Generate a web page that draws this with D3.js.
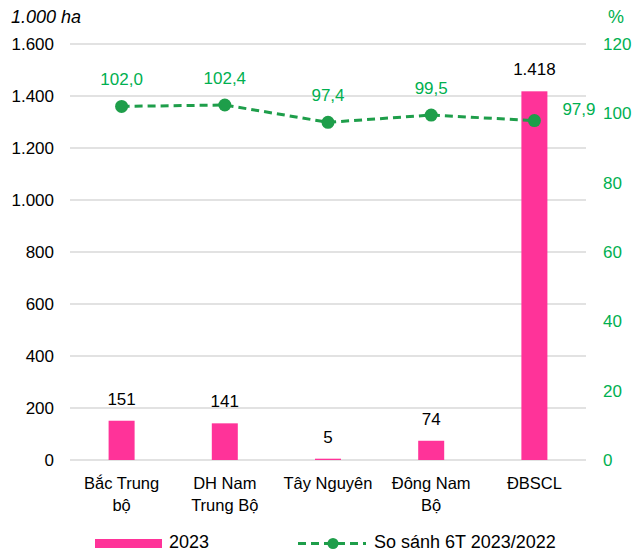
<!DOCTYPE html>
<html><head><meta charset="utf-8">
<script src="https://cdn.jsdelivr.net/npm/d3@7"></script>
<style>body{margin:0;background:#fff}svg{display:block}text{font-family:"Liberation Sans",Arial,sans-serif}</style>
</head><body><svg id="c" width="633" height="552"></svg>
<script>
const categories = [["Bắc Trung","bộ"],["DH Nam","Trung Bộ"],["Tây Nguyên"],["Đông Nam","Bộ"],["ĐBSCL"]];
const area2023 = [151,141,5,74,1418];
const areaLabels = ["151","141","5","74","1.418"];
const ratio = [102.0,102.4,97.4,99.5,97.9];
const ratioLabels = ["102,0","102,4","97,4","99,5","97,9"];
const leftTicks = [0,200,400,600,800,1000,1200,1400,1600];
const leftTickLabels = ["0","200","400","600","800","1.000","1.200","1.400","1.600"];
const rightTicks = [0,20,40,60,80,100,120];

const svg = d3.select("#c");
const L=70,R=586,T=44,B=460;
const pink="#FF3399", green="#00B050", lineGreen="#1E9E4A";
const x = d3.scaleBand().domain(d3.range(categories.length)).range([L,R]).paddingInner(0).paddingOuter(0);
const y = d3.scaleLinear().domain([0,1600]).range([B,T]);
const y2 = d3.scaleLinear().domain([0,120]).range([B,T]);
const cx = i => x(i)+x.bandwidth()/2;

// gridlines
svg.append("g").selectAll("line").data(leftTicks).join("line")
  .attr("x1",L).attr("x2",R).attr("y1",d=>y(d)).attr("y2",d=>y(d))
  .attr("stroke","#d9d9d9").attr("stroke-width",1.5);

// left axis
const la = svg.append("g").attr("transform",`translate(${L},0)`)
  .call(d3.axisLeft(y).tickValues(leftTicks).tickFormat((d,i)=>leftTickLabels[i]).tickSize(0).tickPadding(16));
la.select(".domain").remove();
la.selectAll("text").attr("font-size",17).attr("fill","#000").style("font-family","Liberation Sans, Arial, sans-serif");

// right axis
const ra = svg.append("g").attr("transform",`translate(${R},0)`)
  .call(d3.axisRight(y2).tickValues(rightTicks).tickSize(0).tickPadding(17));
ra.select(".domain").remove();
ra.selectAll("text").attr("font-size",17).attr("fill",green).style("font-family","Liberation Sans, Arial, sans-serif");

svg.append("text").attr("x",11).attr("y",23).attr("font-size",18).attr("font-style","italic").text("1.000 ha");
svg.append("text").attr("x",616).attr("y",23).attr("font-size",18).attr("fill",green).attr("text-anchor","middle").text("%");

// bars
const bw = 26;
svg.append("g").selectAll("rect").data(area2023).join("rect")
  .attr("x",(d,i)=>cx(i)-bw/2).attr("width",bw)
  .attr("y",d=>y(d)).attr("height",d=>B-y(d)).attr("fill",pink);
svg.append("g").selectAll("text").data(area2023).join("text")
  .attr("x",(d,i)=>cx(i)).attr("y",d=>y(d)-16)
  .attr("text-anchor","middle").attr("font-size",17).attr("fill","#000")
  .text((d,i)=>areaLabels[i]);

// category labels
const cl = svg.append("g").selectAll("text").data(categories).join("text")
  .attr("x",(d,i)=>cx(i)).attr("y",489).attr("text-anchor","middle").attr("font-size",16.5);
cl.each(function(d,i){
  const t=d3.select(this);
  d.forEach((s,j)=>t.append("tspan").attr("x",cx(i)).attr("dy",j?22:0).text(s));
});

// line
const line = d3.line().x((d,i)=>cx(i)).y(d=>y2(d));
svg.append("path").datum(ratio).attr("d",line).attr("fill","none")
  .attr("stroke",lineGreen).attr("stroke-width",3).attr("stroke-dasharray","8,5");
svg.append("g").selectAll("circle").data(ratio).join("circle")
  .attr("cx",(d,i)=>cx(i)).attr("cy",d=>y2(d)).attr("r",6.5).attr("fill",lineGreen);
svg.append("g").selectAll("text").data(ratio).join("text")
  .attr("x",(d,i)=>i===4? cx(i)+28 : cx(i))
  .attr("y",(d,i)=>i===4? y2(d)-6 : y2(d)-21)
  .attr("text-anchor",(d,i)=>i===4?"start":"middle")
  .attr("font-size",17).attr("fill",green).text((d,i)=>ratioLabels[i]);

// legend
const lg = svg.append("g");
lg.append("rect").attr("x",95).attr("y",539).attr("width",67).attr("height",9).attr("fill",pink);
lg.append("text").attr("x",169).attr("y",548).attr("font-size",18).text("2023");
lg.append("line").attr("x1",298).attr("x2",366).attr("y1",543.5).attr("y2",543.5)
  .attr("stroke",lineGreen).attr("stroke-width",3).attr("stroke-dasharray","8,5");
lg.append("circle").attr("cx",333).attr("cy",543.5).attr("r",5.5).attr("fill",lineGreen);
lg.append("text").attr("x",374).attr("y",548).attr("font-size",18).text("So sánh 6T 2023/2022");
</script></body></html>
